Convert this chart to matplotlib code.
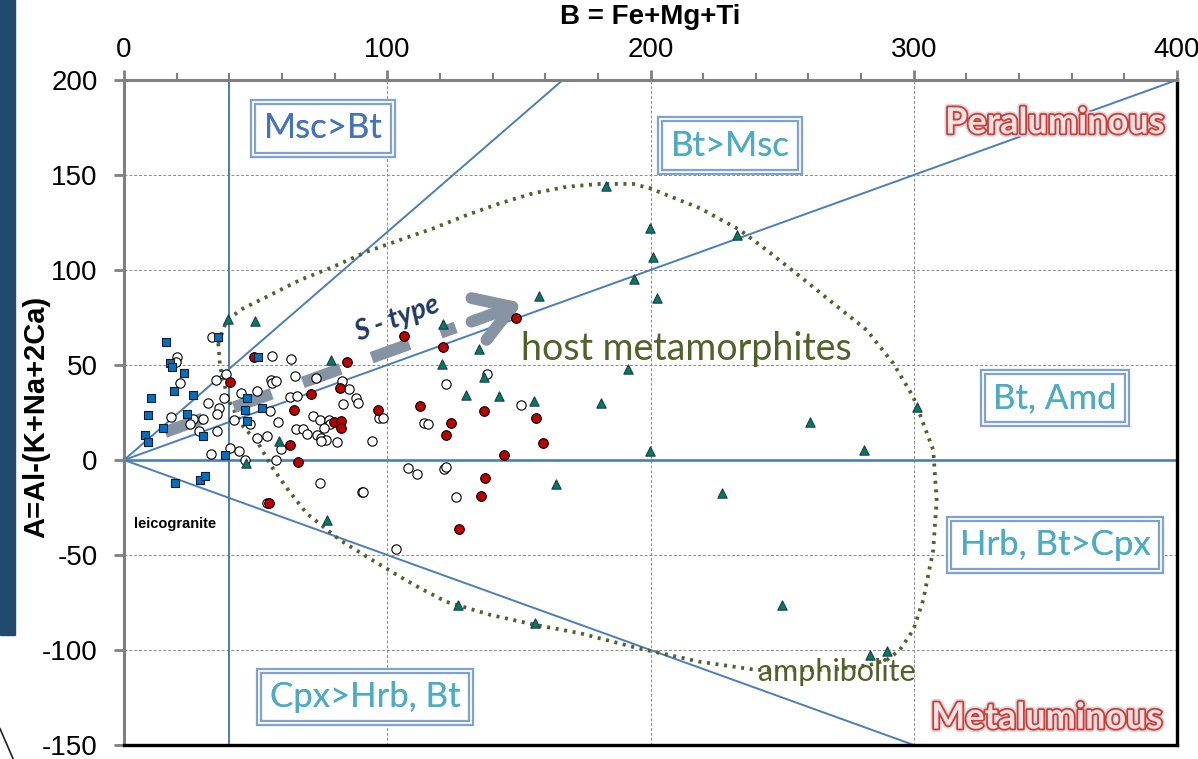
import matplotlib
matplotlib.use('Agg')
import matplotlib.pyplot as plt
import matplotlib.patheffects as pe
from matplotlib.patches import Rectangle
from matplotlib.lines import Line2D

plt.rcParams['axes.unicode_minus'] = False
plt.rcParams['font.family'] = ['Liberation Sans', 'DejaVu Sans']

# --- values: B = Fe+Mg+Ti, A = Al-(K+Na+2Ca) ---
# leucogranite (blue squares)
sq_b = [16.0, 17.5, 18.4, 22.9, 19.0, 10.1, 26.3, 9.0, 24.0, 14.9, 8.0, 9.0,
        30.1, 35.8, 46.7, 46.0, 46.7, 51.0, 52.3, 38.4, 19.4, 28.9, 30.8]
sq_a = [62.3, 50.9, 49.1, 45.6, 36.5, 32.5, 34.0, 23.9, 24.4, 16.8, 13.3, 9.7,
        12.5, 64.6, 32.5, 26.3, 20.5, 54.4, 27.5, 2.8, -11.9, -10.5, -8.4]

# granites (open circles)
oc_b = [33.6, 20.2, 19.7, 21.4, 34.9, 38.7, 44.4, 50.4, 37.8, 32.0, 36.2, 35.5,
        17.8, 26.1, 29.9, 25.1, 28.6, 35.5, 41.9, 50.4, 47.9, 54.4, 56.2, 63.4,
        55.7, 56.3, 57.6, 63.0, 65.6, 58.4, 65.3, 67.9, 69.4, 71.9, 74.4, 78.0,
        78.2, 76.0, 73.2, 75.0, 76.9, 74.8, 81.0, 82.9, 85.4, 83.1, 88.1, 89.0,
        97.0, 98.3, 94.1, 59.6, 32.9, 40.3, 43.7, 46.0, 57.6, 74.4, 90.3, 90.9,
        54.2, 103.3, 64.9, 72.9, 55.4, 114.1, 115.3, 122.5, 138.0, 150.8, 108.0,
        111.4, 121.6, 122.3, 126.0]
oc_a = [64.9, 54.0, 51.7, 40.7, 42.1, 45.3, 35.1, 36.3, 32.5, 30.2, 27.2, 24.1,
        22.8, 21.8, 21.6, 18.9, 15.1, 15.3, 21.1, 11.4, 18.9, 12.8, 54.9, 53.2,
        42.1, 40.4, 41.7, 33.3, 33.7, 19.8, 16.3, 16.3, 13.7, 23.3, 21.1, 21.1,
        18.9, 16.7, 13.2, 11.4, 10.5, 10.2, 9.3, 41.6, 37.2, 29.5, 32.8, 29.8,
        22.3, 22.0, 9.8, 5.8, 3.2, 6.5, 4.7, 0.0, 0.0, -12.3, -17.0, -17.0,
        -22.5, -47.0, 44.2, 43.0, 26.0, 19.3, 18.8, 39.8, 45.3, 28.8, -4.1,
        -7.4, -4.9, -3.5, -19.5]

# red filled circles
rd_b = [49.4, 40.3, 84.6, 82.0, 70.9, 64.6, 96.6, 79.9, 82.4, 82.4, 63.0, 66.1,
        55.1, 106.5, 121.3, 148.9, 112.4, 136.8, 124.4, 122.3, 156.5, 159.0,
        144.4, 137.2, 135.8, 127.4]
rd_a = [54.2, 41.2, 51.4, 37.7, 34.5, 26.2, 26.2, 20.0, 20.5, 16.8, 7.9, -1.2,
        -22.5, 65.4, 59.3, 74.6, 28.4, 26.0, 19.3, 13.4, 21.9, 8.8, 2.8, -9.5,
        -19.1, -36.3]

# host metamorphites (green triangles)
tr_b = [39.4, 49.8, 78.6, 183.1, 199.8, 201.0, 193.8, 202.5, 232.9, 157.7,
        121.3, 134.9, 120.7, 136.8, 129.9, 142.5, 155.7, 181.3, 191.5, 199.7,
        164.2, 260.5, 301.4, 281.2, 227.0, 250.0, 283.3, 289.9, 59.0, 46.2,
        77.0, 127.0, 156.0]
tr_a = [74.2, 73.2, 52.6, 144.2, 122.3, 106.7, 95.1, 85.1, 118.3, 86.3,
        71.4, 58.6, 50.4, 43.7, 34.4, 33.8, 31.3, 29.8, 47.9, 4.9,
        -12.8, 20.2, 27.7, 5.3, -17.5, -76.3, -102.6, -100.5, 10.0, -1.6,
        -31.7, -76.3, -85.6]

# field of host metamorphites (dotted envelope)
env_b = [35.8, 39.0, 45.3, 54.2, 66.8, 79.5, 92.2, 104.8, 117.5, 130.2, 142.8,
         155.5, 168.1, 180.8, 193.4, 199.8, 218.8, 233.9, 244.1, 256.9, 269.4,
         282.1, 292.2, 299.8, 307.4, 308.7, 307.4, 303.6, 299.8, 294.7, 289.7,
         283.3, 268.1, 240.3, 218.8, 195.4, 173.3, 156.4, 139.4, 122.4, 112.4,
         104.8, 92.2, 82.0, 69.4, 62.4, 56.1, 51.0, 45.3, 39.6, 36.5, 35.8]
env_a = [61.4, 73.7, 79.8, 85.9, 94.7, 101.7, 109.6, 115.8, 121.9, 128.9, 135.1,
         140.4, 143.8, 145.3, 145.3, 143.0, 132.5, 121.1, 110.5, 96.5, 82.5,
         68.4, 50.9, 33.3, 5.3, -21.1, -47.4, -73.7, -89.5, -100.0, -105.3,
         -107.9, -110.5, -110.5, -106.2, -99.1, -91.2, -86.8, -81.6, -74.6, -67.4,
         -61.4, -50.9, -42.1, -28.1, -15.8, -3.5, 8.8, 17.6, 31.6, 49.1, 61.4]

# field boundaries through the origin (slopes) and the vertical B = 40
boundary_slopes = [1.2, 0.5, -0.5]
boundary_b = 40

# S-type trend (start, end of shaft, tip)
trend_b = [15.6, 126.0, 151.5]
trend_a = [14.7, 69.8, 82.6]

x_ticks = [0, 100, 200, 300, 400]
y_ticks = [-150, -100, -50, 0, 50, 100, 150, 200]

LINE = '#4a7ebb'
OLIVE = '#4f6228'
GREY_ARROW = '#8693a2'

fig = plt.figure(figsize=(11.98, 7.59), dpi=100)
fig.patch.set_facecolor('white')
ax = fig.add_axes([124 / 1198, 14 / 759, 1053 / 1198, 665 / 759])

# dark strip of the slide background on the left
fig.add_artist(Rectangle((0, 1 - 635 / 759), 15 / 1198, 635 / 759,
                         transform=fig.transFigure, color='#1f4a6e', zorder=0))
fig.add_artist(Line2D([0.0, 0.011], [0.04, 0.0], transform=fig.transFigure,
                      color='#222222', lw=1.2))

ax.set_xlim(0, 400)
ax.set_ylim(-150, 200)

# boundaries
for s in boundary_slopes:
    ax.axline((0, 0), slope=s, color=LINE, lw=1.4, zorder=2)
ax.axhline(0, color=LINE, lw=1.9, zorder=2)
ax.axvline(boundary_b, color=LINE, lw=1.4, zorder=2)

# envelope of the host rocks
ax.plot(env_b, env_a, color=OLIVE, lw=2.7, linestyle=(0, (0.8, 1.5)),
        dash_capstyle='butt', zorder=3)

# S-type trend arrow
ax.plot(trend_b[:2], trend_a[:2], color=GREY_ARROW, lw=8.5,
        linestyle=(0, (3.4, 2.8)), dash_capstyle='butt', zorder=3)
ax.annotate('', xy=(trend_b[2], trend_a[2]), xytext=(trend_b[1] + 6, trend_a[1] + 3),
            arrowprops=dict(arrowstyle='->,head_length=0.8,head_width=0.5',
                            color=GREY_ARROW, lw=8.5, mutation_scale=32,
                            shrinkA=0, shrinkB=0),
            zorder=3)

# samples
ax.scatter(oc_b, oc_a, s=45, marker='o', facecolor='white', edgecolor='black',
           linewidth=0.8, zorder=4)
ax.scatter(rd_b, rd_a, s=48, marker='o', facecolor='#c00000', edgecolor='black',
           linewidth=0.8, zorder=5)
ax.scatter(sq_b, sq_a, s=30, marker='s', facecolor='#0070c0', edgecolor='#1a1a2e',
           linewidth=0.8, zorder=6)
ax.scatter(tr_b, tr_a, s=45, marker='^', facecolor='#00804f', edgecolor='#1f3864',
           linewidth=0.8, zorder=6)

# axes styling
ax.xaxis.tick_top()
ax.set_xticks(x_ticks)
ax.set_xticks(range(0, 401, 20), minor=True)
ax.set_yticks(y_ticks)
ax.tick_params(axis='x', which='major', direction='out', length=7, width=2,
               color='#808080', labelsize=20, pad=5)
ax.tick_params(axis='x', which='minor', direction='out', length=5, width=1.5,
               color='#808080')
ax.tick_params(axis='y', direction='out', length=7, width=2, color='#808080',
               labelsize=20, pad=12)
ax.grid(which='major', color='#8c8c8c', linestyle=(0, (3, 2)), linewidth=0.7, zorder=1)
ax.set_axisbelow(True)
for side in ['top', 'left']:
    ax.spines[side].set_color('#808080')
    ax.spines[side].set_linewidth(2.2)
for side in ['right', 'bottom']:
    ax.spines[side].set_color('black')
    ax.spines[side].set_linewidth(2.4)

ax.text(0.5, 1.095, 'B = Fe+Mg+Ti', transform=ax.transAxes, ha='center',
        va='center', fontsize=20, fontweight='bold')
ax.text(-0.0836, 0.493, 'A=Al-(K+Na+2Ca)', transform=ax.transAxes, ha='center',
        va='center', rotation=90, fontsize=21, fontweight='bold')


def field_box(b, a, label, color):
    for ec, lw in [('#7ea1d8', 4.5), ('white', 1.3)]:
        ax.text(b, a, label, ha='center', va='center', fontsize=25, color=color,
                family='Lato', zorder=7,
                bbox=dict(boxstyle='square,pad=0.3', facecolor='white' if lw > 2 else 'none',
                          edgecolor=ec, linewidth=lw))


field_box(75.6, 174.5, 'Msc>Bt', '#4472c4')
field_box(230.2, 165.5, 'Bt>Msc', '#4bacc6')
field_box(353.6, 32.6, 'Bt, Amd', '#4bacc6')
field_box(353.6, -44.7, 'Hrb, Bt>Cpx', '#4bacc6')
field_box(91.5, -124.7, 'Cpx>Hrb, Bt', '#4bacc6')

outline = [pe.Stroke(linewidth=5, foreground='#d9d9d9'),
           pe.Stroke(linewidth=2.6, foreground='#d23a36'),
           pe.Normal()]
ax.text(353.6, 177.4, 'Peraluminous', ha='center', va='center', fontsize=26,
        fontweight='bold', family='Lato', color='#fbe3e3', path_effects=outline, zorder=7)
ax.text(350.5, -135.8, 'Metaluminous', ha='center', va='center', fontsize=26,
        fontweight='bold', family='Lato', color='#fbe3e3', path_effects=outline, zorder=7)

ax.text(213.8, 58.4, 'host metamorphites', ha='center', va='center', fontsize=27,
        family='Lato', color=OLIVE, zorder=7)
ax.text(270.8, -111.6, 'amphibolite', ha='center', va='center', fontsize=22,
        family='Lato', color=OLIVE, zorder=7)
ax.text(103.7, 74.2, 'S - type', ha='center', va='center', fontsize=20, rotation=20,
        family='Lato', fontweight='bold', fontstyle='italic', color='#1f3864', zorder=7)
ax.text(3.8, -33.7, 'leicogranite', ha='left', va='center', fontsize=10.5,
        fontweight='bold', color='black', zorder=7)

fig.savefig('out.png', dpi=100)
